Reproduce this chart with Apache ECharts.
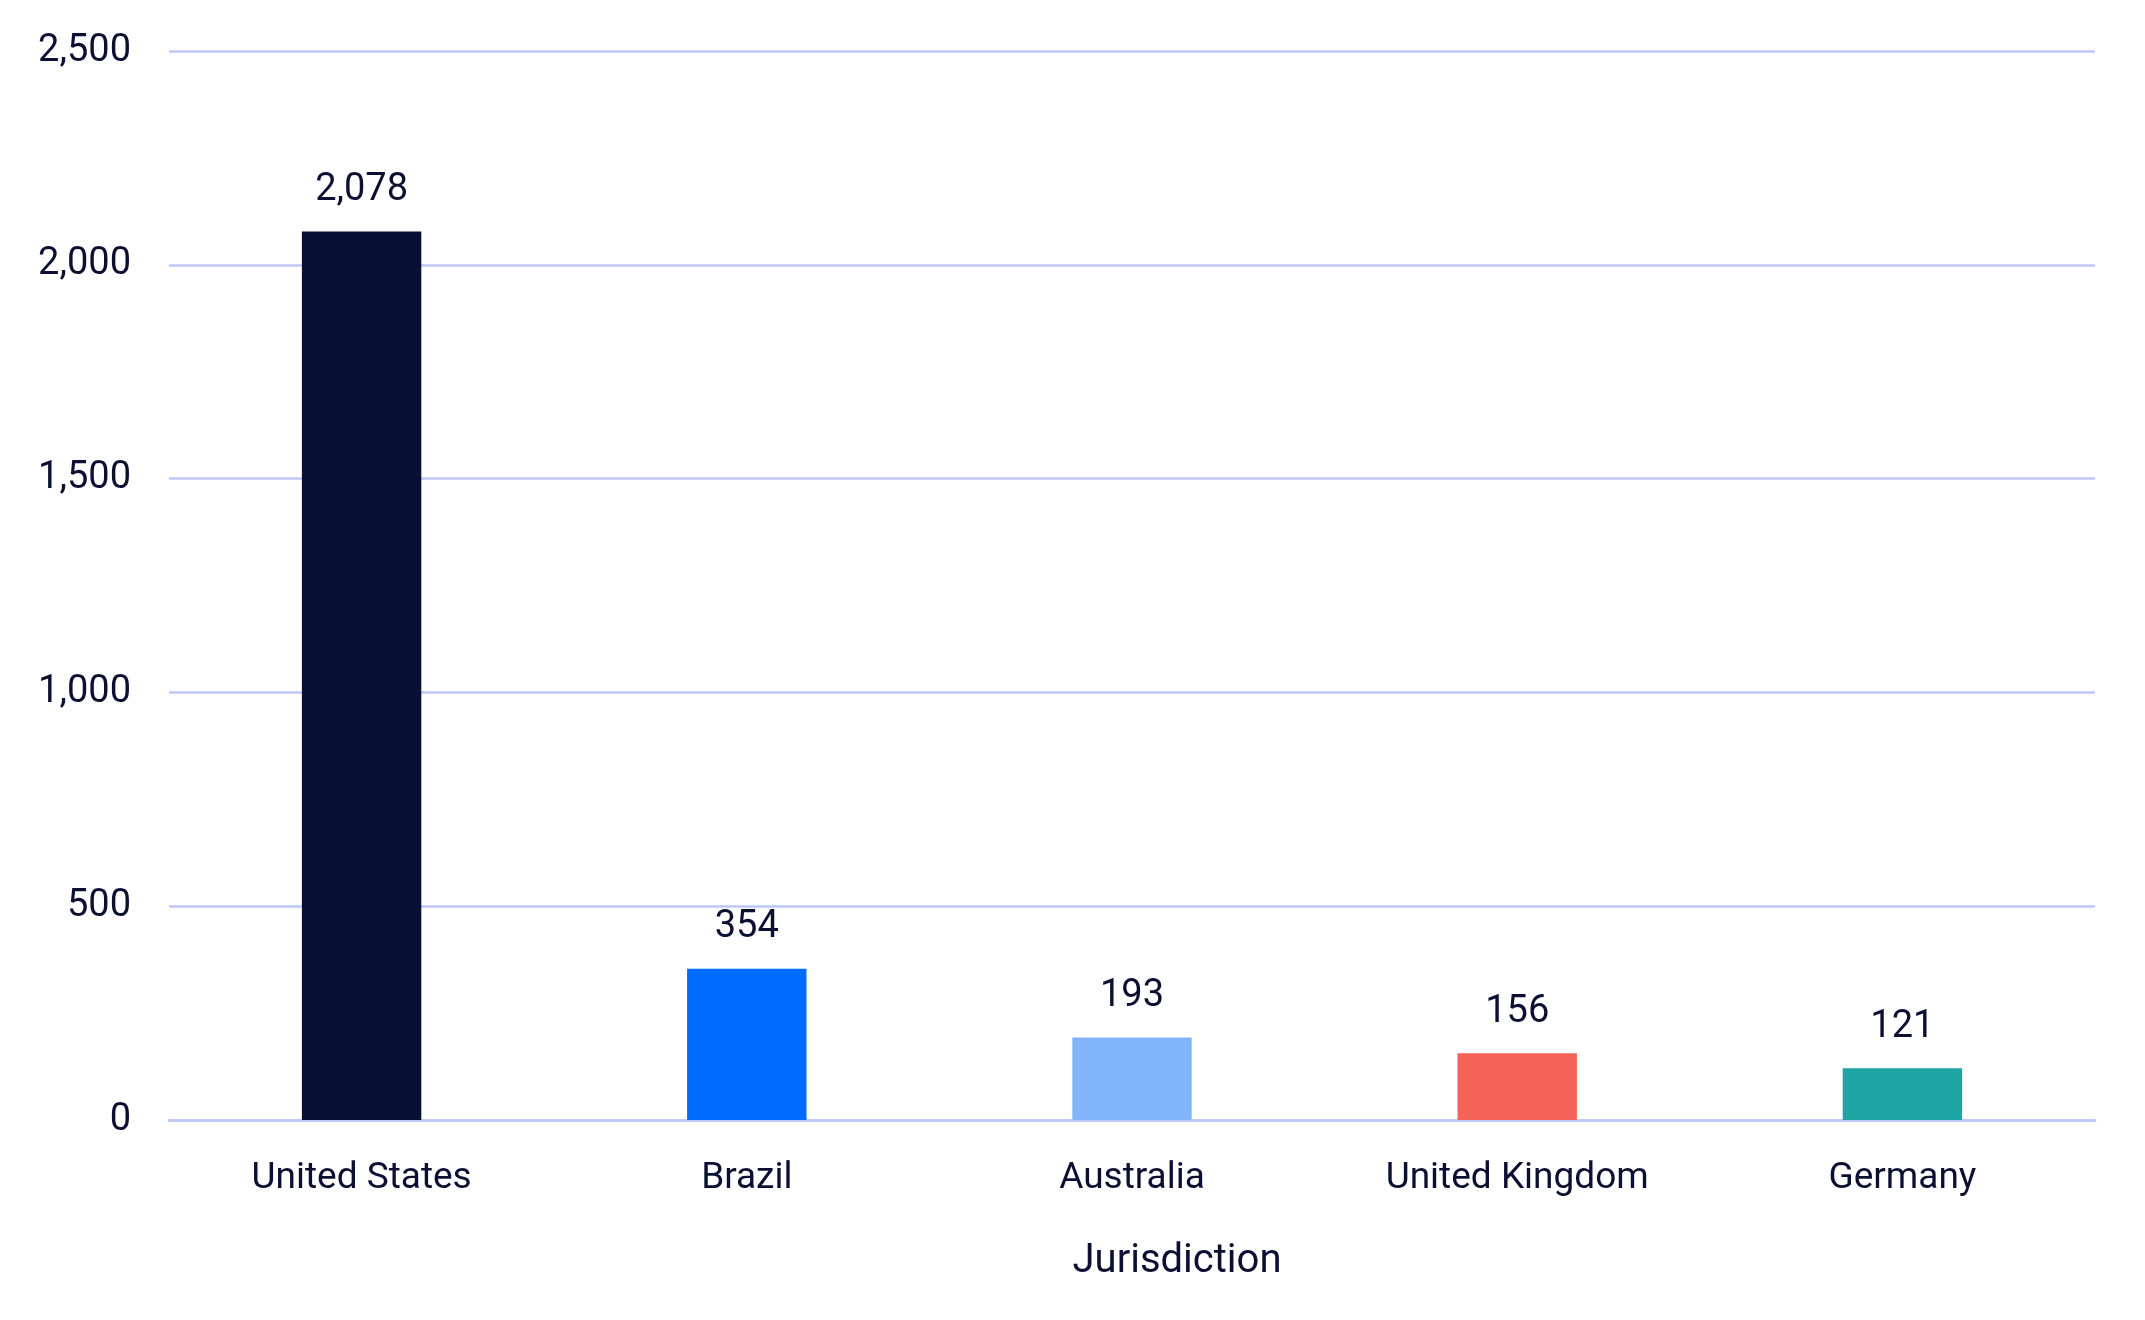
<!DOCTYPE html>
<html>
<head>
<meta charset="utf-8">
<script src="https://cdn.jsdelivr.net/npm/echarts@6/dist/echarts.min.js"></script>
<style>
  html, body { margin: 0; padding: 0; background: #fff; }
  #chart { width: 2145px; height: 1320px; }
</style>
</head>
<body>
<div id="chart"></div>
<script>
var textColor = '#0b1033';
var gridColor = '#bfc7f6';
var fontName = 'Roboto';

var jurisdictions = ['United States', 'Brazil', 'Australia', 'United Kingdom', 'Germany'];
var counts = [2078, 354, 193, 156, 121];
var barColors = ['#081033', '#006bff', '#82b4fb', '#f4635a', '#20a5a5'];

var yMax = 2500;
var yStep = 500;

var chart = echarts.init(document.getElementById('chart'));

var option = {
    backgroundColor: '#fff',
    animation: false,
    grid: {
        left: 169,
        right: 50,
        top: 51,
        bottom: 200
    },
    xAxis: {
        type: 'category',
        data: jurisdictions,
        name: 'Jurisdiction',
        nameLocation: 'middle',
        nameGap: 122,
        nameTextStyle: {
            color: textColor,
            fontSize: 40,
            fontFamily: fontName,
            padding: [0, 0, 0, 90]
        },
        axisLine: { show: true, lineStyle: { color: gridColor, width: 2.5 } },
        axisTick: { show: false },
        axisLabel: {
            color: textColor,
            fontSize: 37,
            fontFamily: fontName,
            margin: 40
        }
    },
    yAxis: {
        type: 'value',
        min: 0,
        max: yMax,
        interval: yStep,
        axisLine: { show: false },
        axisTick: { show: false },
        splitLine: { lineStyle: { color: gridColor, width: 2.5 } },
        axisLabel: {
            color: textColor,
            fontSize: 38,
            fontFamily: fontName,
            margin: 38,
            formatter: function (v) { return v.toLocaleString('en-US'); }
        }
    },
    series: [{
        type: 'bar',
        barWidth: '31%',
        data: counts.map(function (v, i) {
            return { value: v, itemStyle: { color: barColors[i] } };
        }),
        label: {
            show: true,
            position: 'top',
            distance: 22,
            color: textColor,
            fontSize: 38,
            fontFamily: fontName,
            formatter: function (p) { return p.value.toLocaleString('en-US'); }
        }
    }]
};

chart.setOption(option);
</script>
</body>
</html>
